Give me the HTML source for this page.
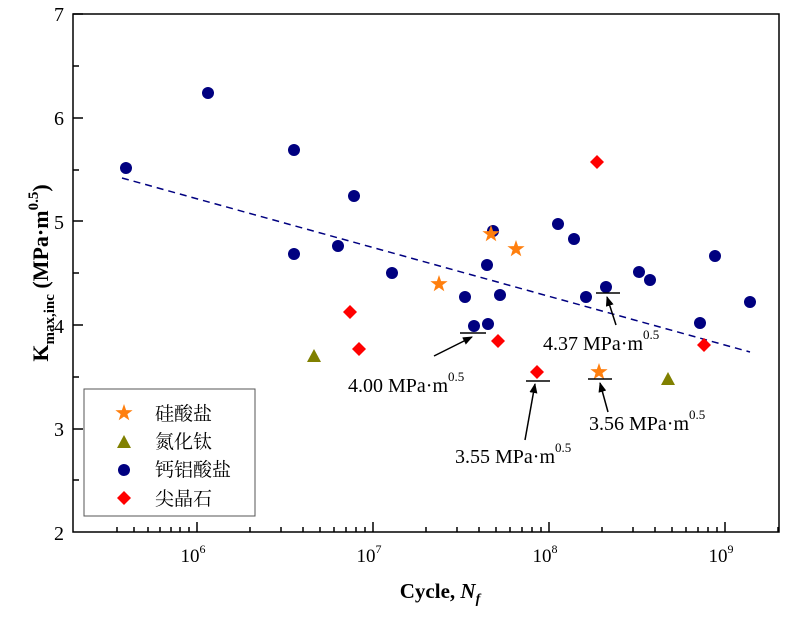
<!DOCTYPE html>
<html><head><meta charset="utf-8"><style>body{margin:0;background:#fff}</style></head><body>
<svg width="800" height="619" xmlns="http://www.w3.org/2000/svg" font-family="Liberation Serif, serif">
<defs>
<path id="star" d="M0,-9 L2.1,-2.9 L8.6,-2.8 L3.4,1.1 L5.3,7.3 L0,3.6 L-5.3,7.3 L-3.4,1.1 L-8.6,-2.8 L-2.1,-2.9Z" fill="#ff7f0e"/>
<path id="tri" d="M0,-7 L7,6 L-7,6Z" fill="#808000"/>
<path id="dia" d="M0,-7 L7,0 L0,7 L-7,0Z" fill="#ff0000"/>
<marker id="ar" markerWidth="10" markerHeight="8" refX="9" refY="4" orient="auto" markerUnits="userSpaceOnUse"><path d="M0,0 L10,4 L0,8Z" fill="#000"/></marker>
</defs>
<rect x="73" y="14" width="706" height="518" fill="none" stroke="#000" stroke-width="1.5"/>
<g stroke="#000" stroke-width="1.5">
<line x1="73" y1="14" x2="83" y2="14"/><line x1="73" y1="66" x2="79" y2="66"/>
<line x1="73" y1="118" x2="83" y2="118"/><line x1="73" y1="170" x2="79" y2="170"/>
<line x1="73" y1="221" x2="83" y2="221"/><line x1="73" y1="273" x2="79" y2="273"/>
<line x1="73" y1="325" x2="83" y2="325"/><line x1="73" y1="377" x2="79" y2="377"/>
<line x1="73" y1="429" x2="83" y2="429"/><line x1="73" y1="480" x2="79" y2="480"/>
<line x1="197" y1="532" x2="197" y2="522"/><line x1="373" y1="532" x2="373" y2="522"/><line x1="549" y1="532" x2="549" y2="522"/><line x1="725" y1="532" x2="725" y2="522"/>
<line x1="117" y1="532" x2="117" y2="527"/><line x1="134" y1="532" x2="134" y2="527"/><line x1="148" y1="532" x2="148" y2="527"/><line x1="160" y1="532" x2="160" y2="527"/><line x1="171" y1="532" x2="171" y2="527"/><line x1="180" y1="532" x2="180" y2="527"/><line x1="189" y1="532" x2="189" y2="527"/>
<line x1="250" y1="532" x2="250" y2="527"/><line x1="281" y1="532" x2="281" y2="527"/><line x1="303" y1="532" x2="303" y2="527"/><line x1="320" y1="532" x2="320" y2="527"/><line x1="334" y1="532" x2="334" y2="527"/><line x1="346" y1="532" x2="346" y2="527"/><line x1="356" y1="532" x2="356" y2="527"/><line x1="365" y1="532" x2="365" y2="527"/>
<line x1="426" y1="532" x2="426" y2="527"/><line x1="457" y1="532" x2="457" y2="527"/><line x1="479" y1="532" x2="479" y2="527"/><line x1="496" y1="532" x2="496" y2="527"/><line x1="510" y1="532" x2="510" y2="527"/><line x1="522" y1="532" x2="522" y2="527"/><line x1="532" y1="532" x2="532" y2="527"/><line x1="541" y1="532" x2="541" y2="527"/>
<line x1="602" y1="532" x2="602" y2="527"/><line x1="633" y1="532" x2="633" y2="527"/><line x1="655" y1="532" x2="655" y2="527"/><line x1="672" y1="532" x2="672" y2="527"/><line x1="686" y1="532" x2="686" y2="527"/><line x1="698" y1="532" x2="698" y2="527"/><line x1="708" y1="532" x2="708" y2="527"/><line x1="717" y1="532" x2="717" y2="527"/>
<line x1="778" y1="532" x2="778" y2="527"/>
</g>
<g font-size="20" text-anchor="end">
<text x="64" y="21">7</text><text x="64" y="125">6</text><text x="64" y="229">5</text><text x="64" y="333">4</text><text x="64" y="436">3</text><text x="64" y="540">2</text>
</g>
<g font-size="19" text-anchor="middle">
<text x="193" y="562">10<tspan font-size="12" dy="-9">6</tspan></text>
<text x="369" y="562">10<tspan font-size="12" dy="-9">7</tspan></text>
<text x="545" y="562">10<tspan font-size="12" dy="-9">8</tspan></text>
<text x="721" y="562">10<tspan font-size="12" dy="-9">9</tspan></text>
</g>
<text x="440" y="598" font-size="21" font-weight="bold" text-anchor="middle">Cycle, <tspan font-style="italic">N<tspan font-size="14" dy="5">f</tspan></tspan></text>
<text transform="translate(48,273) rotate(-90)" font-size="22" font-weight="bold" text-anchor="middle">K<tspan font-size="15" dy="6">max,inc</tspan><tspan dy="-6"> (MPa·m</tspan><tspan font-size="15" dy="-10">0.5</tspan><tspan dy="10">)</tspan></text>
<line x1="122" y1="178" x2="750" y2="352" stroke="#000080" stroke-width="1.5" stroke-dasharray="7,5"/>
<g fill="#000080">
<circle cx="126" cy="168" r="6"/><circle cx="208" cy="93" r="6"/><circle cx="294" cy="150" r="6"/><circle cx="294" cy="254" r="6"/><circle cx="338" cy="246" r="6"/><circle cx="354" cy="196" r="6"/><circle cx="392" cy="273" r="6"/><circle cx="465" cy="297" r="6"/><circle cx="474" cy="326" r="6"/><circle cx="488" cy="324" r="6"/><circle cx="487" cy="265" r="6"/><circle cx="493" cy="231" r="6"/><circle cx="500" cy="295" r="6"/><circle cx="558" cy="224" r="6"/><circle cx="574" cy="239" r="6"/><circle cx="586" cy="297" r="6"/><circle cx="606" cy="287" r="6"/><circle cx="639" cy="272" r="6"/><circle cx="650" cy="280" r="6"/><circle cx="700" cy="323" r="6"/><circle cx="715" cy="256" r="6"/><circle cx="750" cy="302" r="6"/>
</g>
<use href="#star" x="439" y="284"/><use href="#star" x="491" y="234"/><use href="#star" x="516" y="249"/><use href="#star" x="599" y="372"/>
<use href="#tri" x="314" y="356"/><use href="#tri" x="668" y="379"/>
<use href="#dia" x="350" y="312"/><use href="#dia" x="359" y="349"/><use href="#dia" x="498" y="341"/><use href="#dia" x="537" y="372"/><use href="#dia" x="597" y="162"/><use href="#dia" x="704" y="345"/>
<g stroke="#000" stroke-width="1.5">
<line x1="460" y1="333" x2="486" y2="333"/><line x1="434" y1="356" x2="472" y2="337" marker-end="url(#ar)"/>
<line x1="526" y1="381" x2="550" y2="381"/><line x1="525" y1="440" x2="535" y2="384" marker-end="url(#ar)"/>
<line x1="588" y1="379" x2="612" y2="379"/><line x1="608" y1="412" x2="600" y2="383" marker-end="url(#ar)"/>
<line x1="596" y1="293" x2="620" y2="293"/><line x1="616" y1="325" x2="607" y2="297" marker-end="url(#ar)"/>
</g>
<g font-size="20">
<text x="348" y="392">4.00 MPa·m<tspan font-size="13" dy="-11">0.5</tspan></text>
<text x="455" y="463">3.55 MPa·m<tspan font-size="13" dy="-11">0.5</tspan></text>
<text x="589" y="430">3.56 MPa·m<tspan font-size="13" dy="-11">0.5</tspan></text>
<text x="543" y="350">4.37 MPa·m<tspan font-size="13" dy="-11">0.5</tspan></text>
</g>
<rect x="84" y="389" width="171" height="127" fill="#fff" stroke="#555" stroke-width="1"/>
<use href="#star" x="124" y="413"/><use href="#tri" x="124" y="442"/><circle cx="124" cy="470" r="6" fill="#000080"/><use href="#dia" x="124" y="498"/>
<g font-family="Liberation Serif, Noto Serif CJK SC, serif" font-size="19">
<text x="155" y="420">硅酸盐</text><text x="155" y="448">氮化钛</text><text x="155" y="476">钙铝酸盐</text><text x="155" y="505">尖晶石</text>
</g>
</svg>
</body></html>
